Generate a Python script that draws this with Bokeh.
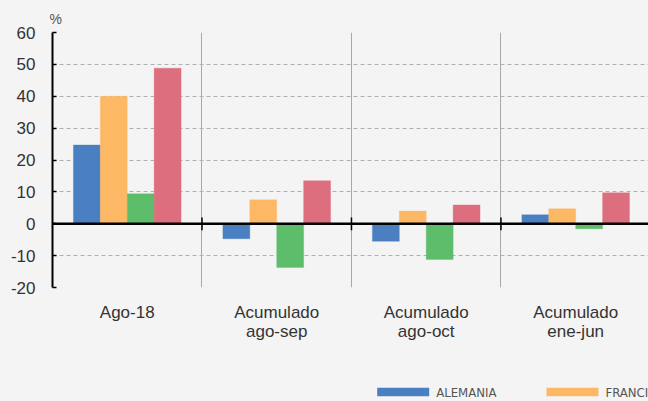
from bokeh.plotting import figure
from bokeh.layouts import column
from bokeh.models import Range1d, FixedTicker, Span
from bokeh.core.properties import value
from bokeh.embed import file_html
from bokeh.resources import INLINE

categories = ["Ago-18", "Acumulado\nago-sep", "Acumulado\nago-oct", "Acumulado\nene-jun"]
series_names = ["ALEMANIA", "FRANCIA", "ITALIA", "REINO UNIDO"]
alemania = [24.7, -4.7, -5.5, 2.8]
francia = [40.0, 7.5, 4.0, 4.7]
italia = [9.4, -13.7, -11.2, -1.6]
reino_unido = [48.8, 13.5, 5.9, 9.7]
y_ticks = [-20, -10, 0, 10, 20, 30, 40, 50, 60]

series = [alemania, francia, italia, reino_unido]
colors = ["#4a7fc1", "#fdb865", "#5dbd6a", "#dc6e7e"]
bg = "#f4f4f4"

p = figure(width=648, height=360, output_backend="svg", toolbar_location=None,
           x_range=Range1d(0, 3.987), y_range=Range1d(-20, 60),
           background_fill_color=bg, border_fill_color=bg,
           min_border_left=52, min_border_right=0, min_border_top=32,
           min_border_bottom=73, outline_line_color=None)

p.title.text = "%"
p.title.text_font = "Liberation Sans"
p.title.text_font_size = "14px"
p.title.text_font_style = "normal"
p.title.text_color = "#555555"
p.title.offset = -3
p.title.standoff = 11

centers = [i + 0.5 for i in range(len(categories))]
bw = 0.18
offsets = [-1.5 * bw, -0.5 * bw, 0.5 * bw, 1.5 * bw]
for vals, col, off in zip(series, colors, offsets):
    p.vbar(x=[c + off for c in centers], top=vals, bottom=0, width=bw,
           fill_color=col, line_color=col, line_alpha=0.35, line_width=1)

# separators
p.xgrid.ticker = FixedTicker(ticks=list(range(1, len(categories))))
p.xgrid.grid_line_color = "#a8a8a8"
p.xgrid.grid_line_width = 1
p.ygrid.ticker = FixedTicker(ticks=[t for t in y_ticks if t != 0])
p.ygrid.grid_line_color = "#b0b0b0"
p.ygrid.grid_line_dash = "4 3"
p.ygrid.grid_line_width = 1

p.add_layout(Span(location=0, dimension="width", line_color="black", line_width=2.5))
bounds = list(range(1, len(categories)))
p.segment(x0=bounds, x1=bounds, y0=[-2] * len(bounds), y1=[2] * len(bounds),
          line_color="black", line_width=1.5)

p.yaxis.ticker = FixedTicker(ticks=y_ticks)
p.yaxis.major_label_overrides = {t: str(t) for t in y_ticks}
p.yaxis.axis_line_color = "black"
p.yaxis.axis_line_width = 2
p.yaxis.major_tick_in = 4
p.yaxis.major_tick_out = 0
p.yaxis.major_tick_line_color = "black"
p.yaxis.major_tick_line_width = 1.5
p.yaxis.minor_tick_line_color = None
p.yaxis.major_label_standoff = 17
p.yaxis.major_label_text_font = "Liberation Sans"
p.yaxis.major_label_text_font_size = "17px"
p.yaxis.major_label_text_color = "#333333"

p.xaxis.ticker = FixedTicker(ticks=centers)
p.xaxis.major_label_overrides = {c: lab for c, lab in zip(centers, categories)}
p.xaxis.axis_line_color = None
p.xaxis.major_tick_line_color = None
p.xaxis.minor_tick_line_color = None
p.xaxis.major_label_standoff = 9
p.xaxis.major_label_text_font = "Liberation Sans"
p.xaxis.major_label_text_font_size = "17px"
p.xaxis.major_label_text_color = "#333333"
p.xaxis.major_label_text_line_height = 1.05

# legend strip (frame is aligned with the chart frame: pixels 52..648)
lg = figure(width=648, height=41, output_backend="svg", toolbar_location=None,
            x_range=Range1d(52, 648), y_range=Range1d(0, 41),
            x_axis_location=None, y_axis_location=None,
            background_fill_color=bg, border_fill_color=bg,
            min_border=0, outline_line_color=None)
lg.grid.visible = False
item_start = 376.7
item_step = 169.3
sw_w = 52
sw_h = 8.5
ly = 9.5
xs = [item_start + i * item_step for i in range(len(series_names))]
lg.rect(x=[x + sw_w / 2 for x in xs], y=[ly] * len(xs), width=sw_w, height=sw_h,
        fill_color=colors, line_color=None)
lg.text(x=[x + sw_w + 7 for x in xs], y=[ly] * len(xs), text=series_names,
        text_font=value("DejaVu Sans Condensed"), text_font_size="13px",
        text_color="#555555", text_baseline="middle", text_align="left")

layout = column(p, lg, spacing=0, styles={"background-color": bg})
open("out.html", "w").write(file_html(layout, INLINE))
